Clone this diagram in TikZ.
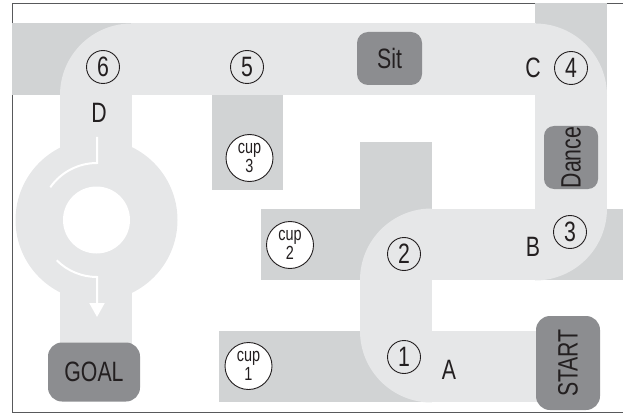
\documentclass[tikz,border=0pt]{standalone}
\usepackage{fontspec}
\newfontfamily\nar[FakeStretch=0.76]{Liberation Sans}
\usetikzlibrary{arrows.meta}
\definecolor{lite}{HTML}{E6E7E8}
\definecolor{drk}{HTML}{D1D3D4}
\definecolor{boxc}{HTML}{8C8D90}
\definecolor{ink}{HTML}{231F20}
\definecolor{frm}{HTML}{58595B}
\tikzset{
  lab/.style={text=ink, inner sep=0pt, font={\nar\fontsize{28}{30}\selectfont}},
  num/.style={lab, circle, draw=ink, line width=0.9pt, minimum size=33pt},
  cupc/.style={circle, draw=ink, fill=white, line width=0.9pt, minimum size=47pt, inner sep=0pt,
    align=center, text=ink, font={\nar\fontsize{19}{19.5}\selectfont}},
  actbox/.style={lab, rectangle, fill=boxc, rounded corners=11pt},
  frame/.style={draw=frm, line width=1pt},
  wline/.style={draw=white, line width=2pt}
}
\begin{document}
\begin{tikzpicture}[x=1pt,y=-1pt]
\useasboundingbox (0,0) rectangle (623,414);
% frame
\draw[frame] (623,4) -- (12,4) -- (12,412) -- (623,412);
% darker tiles
\fill[drk] (12,23.5) rectangle (131.5,95);
\fill[drk] (535,3.5) rectangle (607,95);
\fill[drk] (535,208.5) rectangle (623,280);
\fill[drk] (360,142) rectangle (431.5,280);
\fill[drk] (261,208.5) rectangle (360,280);
\fill[drk] (212,95) rectangle (283,190);
\fill[drk] (219,331) rectangle (431.5,402);
% light road
\fill[lite] (60,95) rectangle (131.5,370);
\fill[lite] (131.5,95) -- (60,95) arc[start angle=180,end angle=270,radius=71.5] -- cycle;
\fill[lite] (131,23.5) rectangle (535.5,95);
\fill[lite] (535,95) -- (535,23.5) arc[start angle=270,end angle=360,radius=72] -- cycle;
\fill[lite] (535,94.5) rectangle (607,209);
\fill[lite] (535,208.5) -- (607,208.5) arc[start angle=0,end angle=90,radius=72] -- cycle;
\fill[lite] (431,208.5) rectangle (535.5,280);
\fill[lite] (431.5,280) -- (431.5,208.5) arc[start angle=270,end angle=180,radius=71.5] -- cycle;
\fill[lite] (360,279.5) rectangle (431.5,331.5);
\fill[lite] (431.5,331) -- (360,331) arc[start angle=180,end angle=90,radius=71.5] -- cycle;
\fill[lite] (431,331) rectangle (560,402);
% roundabout
\fill[lite] (96.5,220) circle[radius=81];
\fill[white] (96.5,220) circle[radius=33.5];
\draw[wline] (97,137) -- (97,163) arc[start angle=270,end angle=215,radius=57];
\draw[wline,-{Triangle[width=15pt,length=14pt]}] (56.7,260.3) arc[start angle=135,end angle=90,radius=57] -- (97,317);
% action boxes
\node[actbox, minimum width=65pt, minimum height=53pt] (sit) at (389.5,58.5) {Sit};
\node[actbox, rotate=90, minimum width=63pt, minimum height=54pt, rounded corners=10pt] (dance) at (571,157.5) {Dance};
\node[actbox, rotate=90, minimum width=94pt, minimum height=64pt, rounded corners=14pt] (start) at (568,363) {START};
\node[actbox, minimum width=92pt, minimum height=59pt, rounded corners=14pt] (goal) at (94,372) {GOAL};
% numbered points
\node[num] (n1) at (404,357) {1};
\node[num] (n2) at (404,254) {2};
\node[num] (n3) at (570,232) {3};
\node[num] (n4) at (571,68) {4};
\node[num] (n5) at (247,67) {5};
\node[num] (n6) at (103,67) {6};
% letters
\node[lab] (la) at (449,370) {A};
\node[lab] (lb) at (533,247) {B};
\node[lab] (lc) at (533,68) {C};
\node[lab] (ld) at (99,113) {D};
% cups
\node[cupc] (c1) at (248.5,366) {cup\\1};
\node[cupc] (c2) at (290,245) {cup\\2};
\node[cupc] (c3) at (249.5,158) {cup\\3};
\end{tikzpicture}
\end{document}
